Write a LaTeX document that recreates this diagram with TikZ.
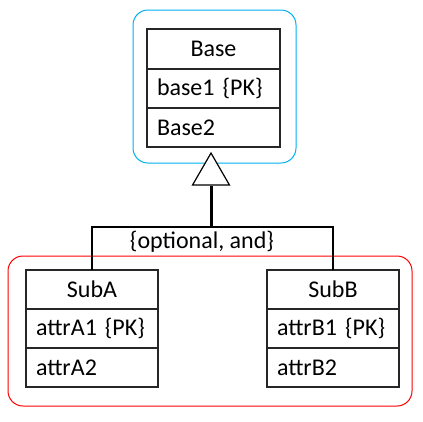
\documentclass[tikz,border=0pt]{standalone}
\usepackage{fontspec}
\setmainfont{Carlito}
\usetikzlibrary{shapes.geometric}
\definecolor{frameblue}{RGB}{0,176,240}
\definecolor{framered}{RGB}{255,0,0}
\begin{document}
\begin{tikzpicture}[x=1pt,y=-1pt,
  font=\fontsize{24}{27}\selectfont,
  cell/.style={draw=black!85, line width=1.2pt, minimum height=39pt, inner xsep=10pt, inner ysep=0pt, outer sep=0pt, anchor=north},
  hdr/.style={cell, text width=#1, align=center},
  attr/.style={cell, text width=#1, align=left},
  frame/.style={line width=1pt, rounded corners=15pt},
  conn/.style={draw=black, line width=2pt},
  gen/.style={draw=black, line width=1.2pt, regular polygon, regular polygon sides=3, minimum size=42.7pt, inner sep=0pt, fill=white}]
\useasboundingbox (0,0) rectangle (423,421);
% frames
\draw[frame, frameblue] (133,10) rectangle (296,163);
\draw[frame, framered] (8,256) rectangle (412,406);
% Base
\node[hdr=113pt, minimum height=40pt] (base) at (213.5,29) {Base};
\node[attr=113pt] (base1) at (base.south) {base1 \{PK\}};
\node[attr=113pt] (base2) at (base1.south) {Base2};
% SubA
\node[hdr=112pt] (subA) at (92,270) {SubA};
\node[attr=112pt] (subA1) at (subA.south) {attrA1 \{PK\}};
\node[attr=112pt] (subA2) at (subA1.south) {attrA2};
% SubB
\node[hdr=112pt] (subB) at (333,270) {SubB};
\node[attr=112pt] (subB1) at (subB.south) {attrB1 \{PK\}};
\node[attr=112pt] (subB2) at (subB1.south) {attrB2};
% generalization
\node[gen] (tri) at (211,174.4) {};
\coordinate (bar) at (211,227);
\draw[conn, line width=3pt] (tri.side 2) -- (bar);
\draw[conn] (subA.north) |- (bar) -| (subB.north);
\node (lbl) at (202,242) {\{optional, and\}};
\end{tikzpicture}
\end{document}
